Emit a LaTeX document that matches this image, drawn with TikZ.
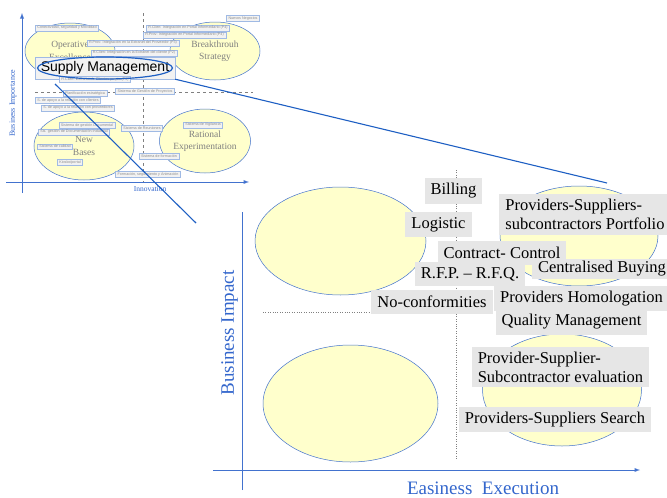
\documentclass[tikz,border=0pt]{standalone}
\usepackage{fontspec}
\setmainfont{Liberation Serif}
\newfontfamily\arialfont{Liberation Sans}
\usepackage{tikz}
\usetikzlibrary{shapes.geometric,arrows,positioning,calc}
\definecolor{myyellow}{RGB}{255,255,204}
\definecolor{myblue}{RGB}{66,114,206}
\definecolor{mytextblue}{RGB}{51,102,204}
\definecolor{mygray}{RGB}{230,230,230}
\definecolor{mylightgray}{RGB}{242,242,242}
\definecolor{myframe}{RGB}{160,186,228}
\definecolor{mydarkblue}{RGB}{30,95,195}
\tikzset{
    myellipse/.style={
        draw=myblue, ellipse, fill=myyellow, line width=0.5pt,
        inner sep=0pt, text=black!50, align=center,
        font=\fontsize{9.5}{12.5}\selectfont
    }
}

\begin{document}
\begin{tikzpicture}[
      x=1pt, y=-1pt,
  bigtag/.style={
    fill=mygray,
    inner xsep=6pt,
    inner ysep=5pt,
    minimum height=24pt,
    font=\fontsize{16.5}{19}\selectfont
    },
  minitag/.style={
    fill=mylightgray,
    draw=myframe,
    line width=0.4pt,
    inner xsep=2pt,
    inner ysep=1.4pt,
    text=black!45,
    font=\arialfont\fontsize{3.7}{4}\selectfont
    },
  axis/.style={draw=myblue, line width=0.9pt},
  zoomline/.style={draw=mydarkblue, line width=1.1pt}
      ]
\useasboundingbox (0,0) rectangle (667,498);

% small map
\draw[axis,-latex] (22,193) -- (22,13);
\draw[axis,-latex] (6,182) -- (249,182);
\draw[gray,dashed] (143,13) -- (143,182);
\draw[gray,dashed] (35,92) -- (253,92);
\node[text=mytextblue, font=\fontsize{7.5}{9}\selectfont] at (150,189) (innov) {Innovation};
\node[rotate=90, text=mytextblue, font=\fontsize{8}{9}\selectfont] at (13,103) (busimp) {Business Importance};

\node[myellipse, minimum width=90pt, minimum height=56pt] at (70,51) (opexc) {Operative\\Excellence};
\node[myellipse, minimum width=90pt, minimum height=58pt] at (215,51) (breakt) {Breakthrouh\\Strategy};
\node[myellipse, minimum width=100pt, minimum height=68pt] at (84,146) (newbas) {New\\Bases};
\node[myellipse, minimum width=91pt, minimum height=64pt] at (205,141) (ratexp) {Rational\\Experimentation};

\foreach \px/\py/\txt [count=\i] in {
  67/28/{Conectividad, seguridad y Movilidad},
  243/18.5/{Nuevos Negocios},
  188/28/{R.Clien: Integración en Portal Informediario (P4)},
  184.5/35/{R.Prov: Integración en Portal Informediario (P4)},
  133/43/{R.Prov: Integración en la Extranet del Proveedor (P3)},
  134/53/{R.Clien: Integración en la Extranet del cliente (P2)},
  85/93.5/{Planificación estratégica},
  145/91.5/{Sistema de Gestión de Proyectos},
  68/100.5/{S. de apoyo a la relación con clientes},
  78/108/{S. de apoyo a la relación con proveedores},
  87/125.5/{Sistema de gestión Documental},
  142/128/{Sistema de Reuniones},
  74/132/{Sis. gestión de Documentación Industrial},
  203/125/{Sistema de Vigilancia},
  55/146.5/{Sistema de calidad},
  70/162.5/{Kiosko/portal},
  159/156/{Sistema de formación},
  148/174.5/{Formación, seguimiento y Animación}}
  \node[minitag] at (\px,\py) (mini\i) {\txt};

\node[fill=mylightgray, draw=myframe, line width=0.4pt, minimum width=140pt, minimum height=22pt,
      inner sep=0pt, font=\arialfont\fontsize{14}{16}\selectfont] at (105,68) (supplybox) {Supply Management};
\node[minitag] at (95,79.5) (miniext) {R.Clien: Extranet de Clientes propia (P3)};
\draw[draw=mydarkblue, line width=1.2pt] (supplybox.center) ellipse [x radius=67.5pt, y radius=11pt];

% big map
\node[myellipse, minimum width=171pt, minimum height=108pt] at (340.5,241) (quadA) {};
\node[myellipse, minimum width=175pt, minimum height=117pt] at (350.5,403.5) (quadB) {};
\node[myellipse, minimum width=158pt, minimum height=100pt] at (579,236) (quadC) {};
\node[myellipse, minimum width=159pt, minimum height=112pt] at (562,390) (quadD) {};

\draw[axis] (242,490) -- (242,212);
\draw[axis,-latex] (213,470) -- (640,470);
\draw[gray,dotted] (456,170) -- (456,460);
\draw[gray,dotted] (263,312) -- (493,312);
\node[rotate=90, text=mytextblue, font=\fontsize{19}{21}\selectfont] at (229.5,333) (ylab) {Business Impact};
\node[text=mytextblue, font=\fontsize{19}{21}\selectfont] at (483,488) (xlab) {Easiness\ \ Execution};

\node[bigtag] at (453.5,191) (billing) {Billing};
\node[bigtag] at (438.5,224.5) (logistic) {Logistic};
\node[bigtag, align=left] at (585,214.5) (portfolio) {Providers-Suppliers-\\subcontractors Portfolio};
\node[bigtag] at (502,253) (contract) {Contract- Control};
\node[bigtag] at (470,274) (rfp) {R.F.P. -- R.F.Q.};
\node[bigtag, minimum height=20pt, inner ysep=2pt] at (602,268.5) (central) {Centralised Buying};
\node[bigtag] at (432,302) (noconf) {No-conformities};
\node[bigtag, minimum height=23pt] at (581.5,298.5) (homolog) {Providers Homologation};
\node[bigtag, minimum height=22pt] at (571.5,322) (quality) {Quality Management};
\node[bigtag, align=left] at (560.5,367) (evaluation) {Provider-Supplier-\\Subcontractor evaluation};
\node[bigtag] at (555,419.5) (search) {Providers-Suppliers Search};

% zoom lines
\coordinate (zoomstart) at (55,84);
\coordinate (zoomendA) at (607,183);
\coordinate (zoomendB) at (196,223);
\draw[zoomline] (supplybox.south east) -- (zoomendA);
\draw[zoomline] (zoomstart) -- (zoomendB);

\end{tikzpicture}
\end{document}
